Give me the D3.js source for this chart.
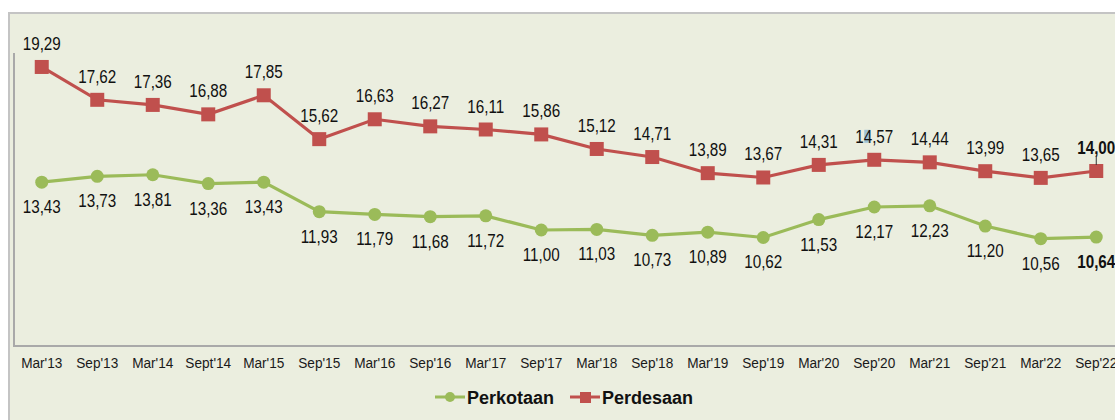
<!DOCTYPE html>
<html>
<head>
<meta charset="utf-8">
<script src="https://cdn.jsdelivr.net/npm/d3@7"></script>
<style>
  body { margin: 0; background: #fff; }
  svg { display: block; font-family: "Liberation Sans", Arial, sans-serif; }
</style>
</head>
<body>
<div id="graphic"></div>
<script>
var periods = ["Mar'13","Sep'13","Mar'14","Sept'14","Mar'15","Sep'15","Mar'16","Sep'16","Mar'17","Sep'17",
               "Mar'18","Sep'18","Mar'19","Sep'19","Mar'20","Sep'20","Mar'21","Sep'21","Mar'22","Sep'22"];
var perkotaan = [13.43,13.73,13.81,13.36,13.43,11.93,11.79,11.68,11.72,11.00,
                 11.03,10.73,10.89,10.62,11.53,12.17,12.23,11.20,10.56,10.64];
var perdesaan = [19.29,17.62,17.36,16.88,17.85,15.62,16.63,16.27,16.11,15.86,
                 15.12,14.71,13.89,13.67,14.31,14.57,14.44,13.99,13.65,14.00];
var seriesNames = ["Perkotaan","Perdesaan"];

var width = 1115, height = 420;
var green = "#9bbb59", red = "#c0504d";
var fmt = function(v) { return d3.format(".2f")(v).replace(".", ","); };

var svg = d3.select("#graphic").append("svg")
	.attr("width", width)
	.attr("height", height);

// panel
svg.append("rect").attr("x", 9).attr("y", 13).attr("width", width).attr("height", height)
	.attr("fill", "#ebeedf").attr("stroke", "#c4c4c4").attr("stroke-width", 2);

var x = d3.scaleBand().domain(periods).range([14, 14 + 55.5 * periods.length]);
var y = d3.scaleLinear().domain([5, 20]).range([348, 53]);
var bottomY = 346;

// plot frame (left + bottom)
svg.append("path")
	.attr("d", "M14,53V" + bottomY + "H" + width)
	.attr("fill", "none").attr("stroke", "#a9a9a9").attr("stroke-width", 2);

// x axis labels (narrow look)
var xAxis = d3.axisBottom(x).tickSize(0).tickPadding(0);
var gx = svg.append("g").attr("transform", "translate(0," + bottomY + ")").call(xAxis);
gx.select(".domain").remove();
gx.selectAll("text")
	.attr("y", 0).attr("dy", 0).attr("x", 0)
	.attr("transform", "translate(0,22) scale(0.88,1)")
	.attr("font-size", 15.5).attr("fill", "#1a1a1a")
	.attr("font-family", "Liberation Sans, Arial, sans-serif");

var cx = function(d, i) { return x(periods[i]) + x.bandwidth() / 2; };
var line = d3.line().x(cx).y(function(d) { return y(d); });

// highlight artefact behind "4" of 14,57
svg.append("rect").attr("x", x("Sep'20") + x.bandwidth() / 2 - 10).attr("y", y(14.57) - 30)
	.attr("width", 6).attr("height", 13).attr("fill", "#9fc3d6");

// Perkotaan
svg.append("path").datum(perkotaan).attr("d", line)
	.attr("fill", "none").attr("stroke", green).attr("stroke-width", 3.2);
svg.selectAll(".kota").data(perkotaan).enter().append("circle")
	.attr("cx", cx).attr("cy", function(d) { return y(d); })
	.attr("r", 6.5).attr("fill", green);

// Perdesaan
svg.append("path").datum(perdesaan).attr("d", line)
	.attr("fill", "none").attr("stroke", red).attr("stroke-width", 3.2);
svg.selectAll(".desa").data(perdesaan).enter().append("rect")
	.attr("x", function(d, i) { return cx(d, i) - 7; })
	.attr("y", function(d) { return y(d) - 7; })
	.attr("width", 14).attr("height", 14).attr("fill", red);

// value labels
var last = periods.length - 1;
function valueLabels(data, cls, offset) {
	svg.selectAll("." + cls).data(data).enter().append("text")
		.attr("class", cls)
		.attr("transform", function(d, i) {
			return "translate(" + cx(d, i) + "," + (y(d) + offset) + ") scale(0.87,1)";
		})
		.attr("text-anchor", "middle").attr("font-size", 17.5).attr("fill", "#111")
		.attr("font-weight", function(d, i) { return i === last ? "bold" : "normal"; })
		.text(fmt);
}
valueLabels(perdesaan, "lblDesa", -17);
valueLabels(perkotaan, "lblKota", 31);

// small tick under last Perdesaan label
svg.append("line").attr("x1", cx(0, last)).attr("x2", cx(0, last))
	.attr("y1", y(14.00) - 14).attr("y2", y(14.00) - 6)
	.attr("stroke", "#333").attr("stroke-width", 1);

// legend
var legend = svg.append("g").attr("transform", "translate(435,397)");
var items = [{name: seriesNames[0], color: green, shape: "circle", x: 0},
             {name: seriesNames[1], color: red, shape: "square", x: 135}];
items.forEach(function(it) {
	var g = legend.append("g").attr("transform", "translate(" + it.x + ",0)");
	g.append("line").attr("x1", 0).attr("x2", 30).attr("y1", 0).attr("y2", 0)
		.attr("stroke", it.color).attr("stroke-width", 3);
	if (it.shape === "circle") {
		g.append("circle").attr("cx", 15).attr("cy", 0).attr("r", 5).attr("fill", it.color);
	} else {
		g.append("rect").attr("x", 10).attr("y", -5).attr("width", 11).attr("height", 11).attr("fill", it.color);
	}
	g.append("text").attr("x", 32).attr("y", 6.5).attr("font-size", 18).attr("font-weight", "bold")
		.attr("fill", "#111").text(it.name);
});
</script>
</body>
</html>
